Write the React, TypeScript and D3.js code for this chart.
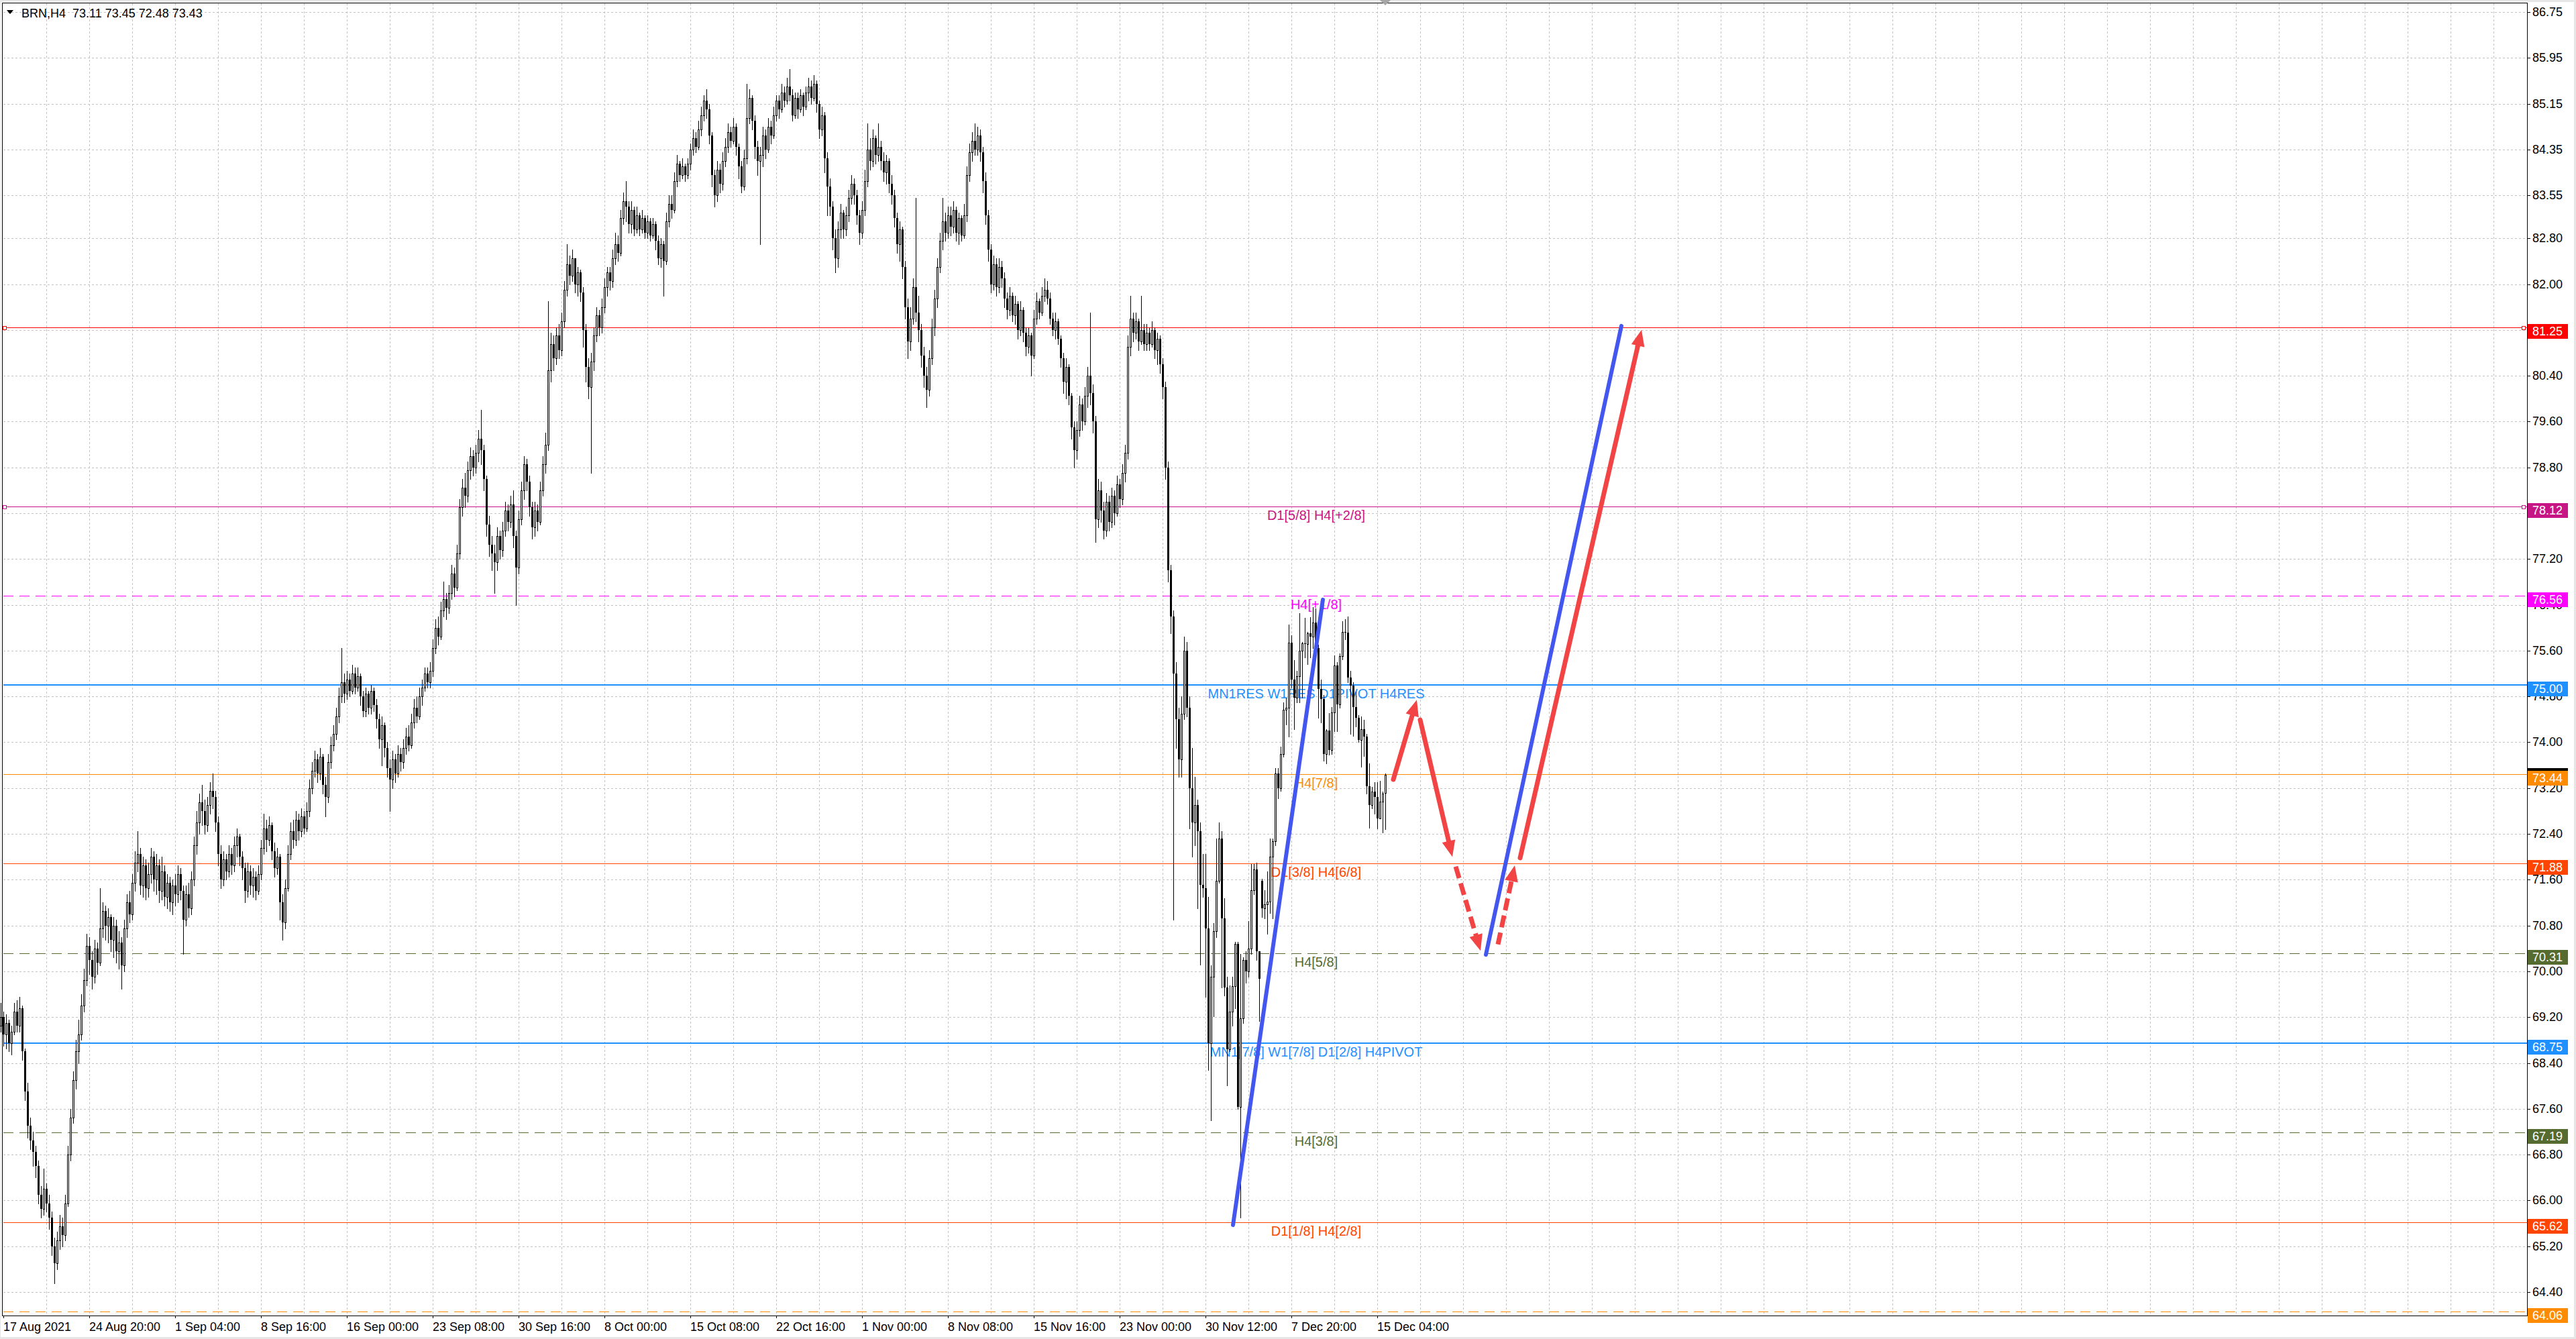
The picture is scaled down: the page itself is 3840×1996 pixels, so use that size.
import React from "react";
import * as d3 from "d3";

// BRN H4 candles, 17 Aug 2021 12:00 .. 15 Dec 2021 20:00 (one value per bar)
const closes = [
  69.2, 68.9, 69.1, 68.75, 68.95, 69.3, 69.05, 69.35, 68.6, 67.9,
  67.3, 67.05, 66.85, 66.6, 66.1, 65.85, 66.2, 65.95, 65.7, 65.2,
  64.9, 65.3, 65.55, 65.4, 65.95, 66.8, 67.45, 68.1, 68.6, 68.9,
  69.4, 69.85, 70.45, 70.2, 69.9, 70.4, 70.15, 70.75, 71.05, 70.8,
  70.95, 70.55, 70.8, 70.35, 70.5, 70.1, 70.75, 71.2, 71.0, 71.55,
  71.9, 72.05, 71.5, 71.85, 71.45, 71.7, 72.0, 71.6, 71.85, 71.4,
  71.75, 71.3, 71.55, 71.2, 71.5, 71.35, 71.7, 71.4, 70.9, 71.35,
  71.1, 71.6, 72.2, 72.6, 72.95, 72.8, 72.55, 72.9, 73.15, 73.05,
  72.6, 72.05, 71.6, 71.95, 71.75, 72.05, 71.85, 72.2, 72.35, 72.0,
  71.8, 71.4, 71.75, 71.5, 71.65, 71.4, 71.7, 72.15, 72.5, 72.3,
  72.55, 72.1, 71.8, 72.0, 71.2, 70.85, 71.45, 72.05, 72.45, 72.3,
  72.65, 72.45, 72.7, 72.5, 72.8, 73.2, 73.5, 73.7, 73.45, 73.75,
  73.25, 73.05, 73.65, 73.95, 74.15, 74.45, 74.8, 75.05, 74.85, 75.1,
  74.9, 75.2, 74.95, 75.15, 74.8, 74.55, 74.85, 74.6, 74.9, 74.65,
  74.4, 74.05, 74.3, 73.9, 73.55, 73.35, 73.7, 73.45, 73.8, 73.65,
  73.9, 74.1, 73.95, 74.35, 74.6, 74.45, 74.8, 74.95, 75.2, 75.05,
  75.25, 75.65, 76.0, 75.85, 76.3, 76.5, 76.35, 76.6, 76.95, 76.7,
  77.3, 78.1, 78.45, 78.3, 78.75, 79.0, 78.8, 79.05, 79.3, 79.1,
  78.6, 77.8, 77.45, 77.3, 77.15, 77.6, 77.35, 77.7, 78.05, 77.85,
  78.15, 77.6, 77.05, 77.9, 78.4, 78.85, 78.55, 78.1, 77.75, 78.05,
  77.85, 78.4, 78.85, 79.2, 80.5, 80.95, 80.7, 81.1, 80.85, 81.35,
  81.9, 82.35, 82.15, 82.45, 82.0, 82.2, 81.85, 81.2, 80.55, 80.2,
  80.65, 81.1, 81.45, 81.25, 81.6, 81.95, 82.2, 82.05, 82.45, 82.7,
  82.55, 83.15, 83.45, 83.35, 83.05, 83.3, 82.95, 83.2, 82.95, 83.15,
  82.9, 83.1, 82.85, 83.05, 82.75, 82.45, 82.7, 82.4, 83.1, 83.4,
  83.3, 83.8, 84.1, 83.9, 84.05, 83.9, 84.1, 84.35, 84.55, 84.4,
  84.7, 84.95, 85.2, 85.05, 84.6, 83.9, 83.55, 84.0, 83.75, 84.15,
  84.4, 84.65, 84.5, 84.75, 84.4, 84.05, 83.7, 84.2, 84.9, 85.25,
  84.85, 84.4, 84.15, 84.25, 84.6, 84.35, 84.75, 84.6, 84.95, 85.2,
  85.05, 85.35, 85.2, 85.45, 85.3, 84.95, 85.25, 85.05, 85.3, 85.1,
  85.35, 85.45, 85.25, 85.5, 85.15, 84.7, 84.95, 84.2, 83.7, 83.35,
  82.8, 82.45, 82.95, 83.25, 82.95, 83.2, 83.5, 83.75, 83.55, 83.2,
  82.9, 83.3, 83.8, 84.35, 84.15, 84.55, 84.25, 84.4, 84.15, 83.95,
  84.15, 83.75, 83.55, 83.15, 82.7, 82.95, 82.3, 81.6, 81.0, 81.4,
  81.95, 81.5, 81.2, 80.75, 80.4, 80.15, 80.7, 81.25, 81.75, 82.3,
  82.75, 83.1, 82.9, 83.2, 83.0, 83.3, 82.9, 83.15, 82.85, 83.2,
  83.9, 84.3, 84.5, 84.35, 84.6, 84.3, 83.8, 83.2, 82.6, 82.0,
  82.35, 81.95, 82.3, 82.1, 81.75, 81.55, 81.8, 81.45, 81.65, 81.2,
  81.55, 81.15, 80.9, 81.1, 80.75, 81.4, 81.7, 81.5, 81.8, 81.9,
  81.75, 81.4, 81.2, 81.35, 81.05, 80.7, 80.3, 80.55, 80.05, 79.5,
  79.1, 79.45, 79.9, 79.6, 80.05, 80.4, 80.1, 79.6, 77.9, 78.4,
  78.05, 77.7, 78.2, 77.85, 78.3, 78.0, 78.5, 78.25, 78.7, 79.05,
  80.9, 81.4, 81.15, 81.35, 81.0, 81.2, 80.95, 81.15, 80.95, 81.2,
  80.85, 81.05, 80.6, 80.2, 78.8, 77.0, 76.2, 75.2, 74.4, 73.7,
  74.5, 75.6, 74.6, 73.2, 72.6, 72.9, 72.45, 71.51, 71.45, 70.75,
  68.75, 69.9, 70.7, 71.58, 72.32, 70.93, 69.72, 68.64, 69.3, 69.74,
  70.48, 67.63, 69.18, 70.2, 70.0, 70.4, 71.42, 71.78, 70.35, 69.87,
  71.1, 71.17, 71.22, 72.0, 72.27, 73.45, 73.2, 73.8, 74.57, 74.6,
  75.74, 75.1, 74.78, 75.15, 75.6, 75.73, 75.71, 75.9, 75.85, 76.09,
  75.64, 74.93, 74.76, 73.8, 74.2, 73.86, 74.52, 75.34, 74.66, 75.5,
  75.93, 75.92, 75.13, 74.99, 74.62, 74.43, 74.04, 74.23, 74.1, 73.23,
  72.9, 73.14, 73.04, 72.67, 72.96, 73.1, 73.43,
];

const highs = [
  69.45, 69.3, 69.25, 69.15, 69.05, 69.45, 69.5, 69.55, 69.4, 68.65,
  68.05, 67.45, 67.2, 66.95, 66.7, 66.25, 66.55, 66.3, 66.1, 65.8,
  65.35, 65.45, 65.75, 65.7, 66.1, 66.95, 67.6, 68.25, 68.8, 69.15,
  69.6, 70.05, 70.65, 70.6, 70.35, 70.55, 70.5, 71.45, 71.2, 71.15,
  71.1, 71.0, 70.95, 70.9, 70.7, 70.6, 70.9, 71.35, 71.4, 71.7,
  72.1, 72.45, 72.15, 72.0, 71.95, 71.9, 72.15, 72.1, 72.05, 71.95,
  72.0, 71.85, 71.7, 71.65, 71.6, 71.7, 71.85, 71.8, 71.5, 71.5,
  71.55, 71.75, 72.35, 72.8, 73.1, 73.25, 73.0, 73.05, 73.3, 73.45,
  73.15, 72.7, 72.2, 72.1, 72.05, 72.2, 72.15, 72.35, 72.5, 72.4,
  72.1, 71.9, 71.9, 71.85, 71.8, 71.75, 71.85, 72.3, 72.75, 72.65,
  72.7, 72.6, 72.25, 72.15, 72.05, 71.35, 71.6, 72.2, 72.6, 72.65,
  72.8, 72.75, 72.85, 72.8, 72.95, 73.35, 73.65, 73.85, 73.8, 73.9,
  73.8, 73.4, 73.8, 74.1, 74.3, 74.6, 74.95, 75.65, 75.2, 75.25,
  75.2, 75.35, 75.3, 75.3, 75.2, 74.9, 74.95, 74.9, 75.0, 74.95,
  74.75, 74.5, 74.45, 74.35, 74.0, 73.7, 73.85, 73.8, 73.95, 73.9,
  74.05, 74.25, 74.3, 74.5, 74.75, 74.8, 74.95, 75.1, 75.3, 75.3,
  75.4, 75.8, 76.15, 76.2, 76.45, 76.8, 76.6, 76.75, 77.1, 77.05,
  77.45, 78.25, 78.6, 78.7, 78.9, 79.15, 79.1, 79.2, 79.45, 79.8,
  79.2, 78.65, 77.95, 77.6, 77.45, 77.75, 77.7, 77.85, 78.2, 78.15,
  78.3, 78.4, 77.7, 78.05, 78.55, 79.0, 78.95, 78.65, 78.2, 78.2,
  78.15, 78.55, 79.0, 79.4, 81.7, 81.15, 81.1, 81.25, 81.3, 81.5,
  82.05, 82.7, 82.5, 82.6, 82.45, 82.3, 82.25, 81.95, 81.3, 80.7,
  80.8, 81.25, 81.6, 81.55, 81.75, 82.1, 82.3, 82.3, 82.6, 82.9,
  82.85, 83.3, 83.6, 83.8, 83.45, 83.45, 83.35, 83.35, 83.25, 83.3,
  83.2, 83.2, 83.15, 83.15, 83.1, 82.85, 82.8, 82.75, 83.25, 83.55,
  83.55, 83.95, 84.25, 84.15, 84.2, 84.1, 84.2, 84.45, 84.7, 84.65,
  84.85, 85.1, 85.3, 85.4, 85.15, 84.65, 84.0, 84.15, 84.1, 84.3,
  84.55, 84.8, 84.75, 84.9, 84.8, 84.45, 84.15, 84.35, 85.5, 85.4,
  85.3, 84.95, 84.5, 84.4, 84.75, 84.7, 84.9, 84.85, 85.1, 85.3,
  85.3, 85.5, 85.45, 85.6, 85.75, 85.4, 85.35, 85.35, 85.4, 85.35,
  85.45, 85.6, 85.55, 85.65, 85.55, 85.2, 85.1, 85.0, 84.3, 83.85,
  83.45, 82.95, 83.1, 83.4, 83.3, 83.35, 83.65, 83.9, 83.85, 83.65,
  83.3, 83.45, 84.0, 84.8, 84.55, 84.7, 84.6, 84.8, 84.5, 84.3,
  84.25, 84.2, 83.9, 83.65, 83.25, 83.1, 83.0, 82.4, 81.75, 81.6,
  82.1, 83.5, 81.8, 81.3, 80.9, 80.55, 80.85, 81.4, 81.9, 82.45,
  82.9, 83.5, 83.25, 83.35, 83.35, 83.45, 83.35, 83.25, 83.2, 83.4,
  84.05, 84.45, 84.65, 84.8, 84.75, 84.7, 84.4, 83.95, 83.3, 82.7,
  82.5, 82.45, 82.45, 82.4, 82.2, 81.85, 81.95, 81.85, 81.8, 81.7,
  81.7, 81.6, 81.25, 81.25, 81.15, 81.55, 81.85, 81.75, 81.95, 82.1,
  82.05, 81.85, 81.5, 81.5, 81.4, 81.1, 80.8, 80.7, 80.6, 80.1,
  79.6, 79.6, 80.05, 80.0, 80.2, 80.55, 81.5, 80.25, 79.7, 78.6,
  78.55, 78.2, 78.35, 78.3, 78.45, 78.4, 78.65, 78.6, 78.85, 79.2,
  81.1, 81.8, 81.5, 81.5, 81.4, 81.8, 81.3, 81.3, 81.25, 81.35,
  81.25, 81.15, 81.1, 80.7, 80.3, 78.9, 77.1, 76.3, 75.4, 74.6,
  74.8, 75.85, 75.75, 74.8, 73.9, 73.4, 73.0, 72.6, 72.05, 72.05,
  71.3, 70.1, 70.84, 72.32, 72.6, 72.45, 71.28, 69.9, 69.75, 69.9,
  70.52, 70.52, 70.3, 70.25, 70.35, 70.88, 71.87, 71.87, 71.9, 70.35,
  71.62, 71.42, 71.74, 72.32, 72.32, 73.55, 73.55, 73.92, 74.7, 74.78,
  76.05, 75.87, 75.44, 75.25, 76.26, 75.75, 76.17, 75.93, 76.18, 76.36,
  76.34, 75.7, 75.1, 74.82, 74.23, 74.51, 74.62, 75.52, 75.4, 75.55,
  76.11, 76.15, 76.2, 75.25, 75.05, 74.88, 74.47, 74.45, 74.39, 74.15,
  73.63, 73.22, 73.3, 73.3, 73.33, 73.14, 73.45,
];

const lows = [
  68.95, 68.7, 68.65, 68.6, 68.55, 68.9, 68.95, 68.95, 68.45, 67.75,
  67.1, 66.9, 66.6, 66.4, 65.95, 65.7, 65.75, 65.8, 65.5, 65.05,
  64.55, 64.8, 65.15, 65.2, 65.3, 65.9, 66.7, 67.35, 67.95, 68.4,
  68.8, 69.3, 69.75, 69.95, 69.7, 69.8, 69.95, 70.1, 70.6, 70.55,
  70.5, 70.35, 70.25, 70.15, 70.05, 69.7, 70.0, 70.6, 70.85, 70.9,
  71.4, 71.75, 71.35, 71.3, 71.25, 71.3, 71.55, 71.4, 71.35, 71.2,
  71.25, 71.15, 71.1, 71.05, 71.0, 71.15, 71.2, 71.25, 70.3, 70.8,
  70.95, 71.0, 71.5, 72.05, 72.4, 72.55, 72.4, 72.45, 72.75, 72.85,
  72.45, 71.85, 71.45, 71.5, 71.6, 71.65, 71.7, 71.75, 72.0, 71.85,
  71.6, 71.2, 71.3, 71.35, 71.3, 71.25, 71.35, 71.6, 72.05, 72.1,
  72.2, 71.95, 71.65, 71.7, 70.9, 70.55, 70.75, 71.4, 71.95, 72.15,
  72.2, 72.3, 72.35, 72.4, 72.45, 72.7, 73.1, 73.4, 73.3, 73.35,
  73.1, 72.7, 72.95, 73.55, 73.85, 74.05, 74.35, 74.7, 74.7, 74.75,
  74.8, 74.85, 74.85, 74.9, 74.65, 74.45, 74.45, 74.5, 74.5, 74.55,
  74.25, 73.9, 73.6, 73.75, 73.4, 72.8, 73.2, 73.3, 73.4, 73.5,
  73.55, 73.8, 73.85, 73.9, 74.25, 74.35, 74.4, 74.65, 74.9, 74.95,
  74.95, 75.15, 75.55, 75.7, 75.8, 76.2, 76.15, 76.25, 76.5, 76.55,
  76.65, 77.2, 77.95, 78.1, 78.2, 78.6, 78.65, 78.7, 78.9, 78.85,
  78.4, 77.6, 77.25, 77.0, 76.6, 77.0, 77.2, 77.25, 77.6, 77.7,
  77.75, 77.4, 76.4, 76.95, 77.8, 78.25, 78.4, 77.95, 77.55, 77.6,
  77.7, 77.8, 78.3, 78.7, 79.1, 80.3, 80.5, 80.6, 80.7, 80.75,
  81.25, 81.8, 82.0, 82.05, 81.85, 81.8, 81.7, 80.9, 80.3, 80.0,
  78.7, 80.5, 81.0, 81.1, 81.15, 81.5, 81.8, 81.9, 81.95, 82.35,
  82.4, 82.5, 83.05, 83.1, 82.9, 82.9, 82.85, 82.9, 82.85, 82.9,
  82.8, 82.8, 82.75, 82.8, 82.6, 82.35, 82.3, 81.8, 82.35, 83.0,
  83.15, 83.25, 83.7, 83.8, 83.85, 83.8, 83.85, 84.0, 84.25, 84.3,
  84.35, 84.6, 84.85, 84.9, 84.45, 83.7, 83.35, 83.45, 83.6, 83.65,
  84.05, 84.3, 84.4, 84.45, 84.25, 83.85, 83.6, 83.65, 84.1, 84.8,
  84.7, 84.2, 83.9, 82.7, 84.05, 84.2, 84.3, 84.45, 84.55, 84.85,
  84.9, 85.0, 85.1, 85.15, 85.2, 84.85, 84.9, 84.9, 85.0, 84.95,
  85.05, 85.2, 85.15, 85.2, 85.0, 84.55, 84.6, 83.95, 83.2, 83.2,
  82.6, 82.2, 82.3, 82.8, 82.8, 82.85, 83.1, 83.4, 83.4, 83.05,
  82.7, 82.8, 83.2, 83.7, 84.0, 84.05, 84.1, 84.15, 84.0, 83.8,
  83.75, 83.6, 83.4, 83.0, 82.55, 82.4, 82.1, 81.4, 80.7, 80.85,
  81.3, 81.35, 81.0, 80.55, 80.2, 79.85, 80.05, 80.6, 81.1, 81.6,
  82.2, 82.6, 82.75, 82.8, 82.85, 82.9, 82.75, 82.7, 82.75, 82.8,
  83.1, 83.8, 84.15, 84.25, 84.25, 84.15, 83.6, 83.05, 82.4, 81.85,
  81.9, 81.8, 81.85, 81.95, 81.6, 81.4, 81.45, 81.35, 81.3, 81.05,
  81.1, 81.0, 80.75, 80.8, 80.4, 80.7, 81.3, 81.4, 81.45, 81.7,
  81.65, 81.3, 81.1, 81.05, 80.95, 80.55, 80.1, 80.0, 79.9, 79.3,
  78.8, 78.95, 79.35, 79.45, 79.55, 79.85, 79.9, 79.4, 77.5, 77.75,
  77.85, 77.55, 77.6, 77.7, 77.75, 77.8, 77.95, 78.1, 78.15, 78.55,
  78.95, 80.75, 81.0, 81.05, 80.85, 80.95, 80.85, 80.85, 80.85, 80.9,
  80.7, 80.6, 80.45, 80.0, 78.6, 76.8, 75.9, 70.9, 73.9, 73.4,
  73.4, 74.4, 74.45, 72.5, 72.0, 72.2, 71.1, 70.12, 71.3, 69.55,
  68.28, 67.4, 69.22, 70.6, 71.55, 69.72, 69.58, 68.01, 68.6, 69.05,
  69.35, 67.6, 65.7, 69.1, 69.8, 69.9, 70.3, 71.35, 70.2, 69.13,
  70.95, 70.93, 70.66, 71.02, 70.93, 72.2, 73.02, 73.15, 73.75, 74.31,
  74.1, 74.95, 74.23, 74.7, 74.7, 74.78, 75.48, 75.36, 75.48, 75.64,
  75.55, 74.43, 74.35, 73.68, 73.63, 73.78, 73.8, 74.19, 74.19, 74.6,
  75.45, 75.8, 75.05, 74.15, 74.11, 74.28, 74.0, 73.57, 73.76, 73.1,
  72.51, 72.85, 72.75, 72.49, 72.67, 72.42, 72.48,
];

// opens follow the previous close, except where a session opened with a gap
const firstOpen = 69.05;
const gapOpens: [number, number][] = [
  [470, 71.58],
  [516, 73.11],
];

const lastOhlc = [73.11, 73.45, 72.48, 73.43];

// time axis labels, one every 32 bars starting at bar 1
const timeLabels = [
  "17 Aug 2021", "24 Aug 20:00", "1 Sep 04:00", "8 Sep 16:00", "16 Sep 00:00",
  "23 Sep 08:00", "30 Sep 16:00", "8 Oct 00:00", "15 Oct 08:00", "22 Oct 16:00",
  "1 Nov 00:00", "8 Nov 08:00", "15 Nov 16:00", "23 Nov 00:00", "30 Nov 12:00",
  "7 Dec 20:00", "15 Dec 04:00",
];

const priceTicks = [
  86.75, 85.95, 85.15, 84.35, 83.55, 82.8, 82.0, 81.2, 80.4, 79.6, 78.8, 78.0,
  77.2, 76.4, 75.6, 74.8, 74.0, 73.2, 72.4, 71.6, 70.8, 70.0, 69.2, 68.4, 67.6,
  66.8, 66.0, 65.2, 64.4,
];

// Murrey / pivot levels
const levelPrices = [81.25, 78.12, 76.56, 75.0, 73.44, 71.88, 70.31, 68.75, 67.19, 65.62, 64.06];
const levelLabels = [
  "",
  "D1[5/8] H4[+2/8]",
  "H4[+1/8]",
  "MN1RES W1RES D1PIVOT H4RES",
  "H4[7/8]",
  "D1[3/8] H4[6/8]",
  "H4[5/8]",
  "MN1[7/8] W1[7/8] D1[2/8] H4PIVOT",
  "H4[3/8]",
  "D1[1/8] H4[2/8]",
  "",
];

// hand-drawn forecast: [bar, price] pairs
const trendFrom: [number, number][] = [[459.25, 65.57], [553.5, 70.29]];
const trendTo: [number, number][] = [[492.75, 76.49], [604, 81.27]];
const arrowFrom: [number, number][] = [[519, 73.35], [529, 74.39], [542.25, 71.83], [558, 70.47], [566.25, 71.98]];
const arrowTo: [number, number][] = [[527.75, 74.74], [541, 72.0], [551.5, 70.36], [564.25, 71.85], [611.5, 81.2]];

// ---- styles ----
const FONT = "'Liberation Sans', Arial, sans-serif";
const levelStyle = [
  { color: "#ff0000", dash: "", width: 1, anchor: true },
  { color: "#c71585", dash: "", width: 1, anchor: true },
  { color: "#ff00ff", dash: "15,9", width: 1, anchor: false },
  { color: "#1e90ff", dash: "", width: 2, anchor: false },
  { color: "#ff8c00", dash: "", width: 1, anchor: false },
  { color: "#ff4500", dash: "", width: 1, anchor: false },
  { color: "#556b2f", dash: "15,9", width: 1, anchor: false },
  { color: "#1e90ff", dash: "", width: 2, anchor: false },
  { color: "#556b2f", dash: "15,9", width: 1, anchor: false },
  { color: "#ff4500", dash: "", width: 1, anchor: false },
  { color: "#ff8c00", dash: "15,9", width: 1, anchor: false },
];
const arrowDashed = [false, false, true, true, false];
const RED = "#f24444";
const BLUE = "#4356ef";

const W = 3840;
const H = 1996;
const PL = 4;
const PT = 4;
const PR = 3767;
const PB = 1961;
const LABEL_BAR = 490.25;

export default function App() {
  const x = d3.scaleLinear().domain([0, 516]).range([1, 2065]);
  const y = d3.scaleLinear().domain([63.99, 86.914]).range([PB, PT]);

  const gapMap = new Map(gapOpens);
  const bars = closes.map((c, i) => {
    const o = gapMap.has(i) ? (gapMap.get(i) as number) : i === 0 ? firstOpen : closes[i - 1];
    return { i, o, h: highs[i], l: lows[i], c };
  });

  const gridBars = d3.range(17, 930, 16);
  const labelBars = timeLabels.map((_, k) => 1 + 32 * k);

  const arrow = (k: number) => {
    const x1 = x(arrowFrom[k][0]);
    const y1 = y(arrowFrom[k][1]);
    const x2 = x(arrowTo[k][0]);
    const y2 = y(arrowTo[k][1]);
    const len = Math.hypot(x2 - x1, y2 - y1);
    const ux = (x2 - x1) / len;
    const uy = (y2 - y1) / len;
    const headLen = 24;
    const half = 10;
    const bx = x2 - ux * headLen;
    const by = y2 - uy * headLen;
    const head = `M${x2},${y2}L${bx - uy * half},${by + ux * half}L${bx + uy * half},${by - ux * half}Z`;
    return (
      <g key={k}>
        <line
          x1={x1}
          y1={y1}
          x2={bx + ux * 3}
          y2={by + uy * 3}
          stroke={RED}
          strokeWidth={7}
          strokeLinecap={arrowDashed[k] ? "butt" : "round"}
          strokeDasharray={arrowDashed[k] ? "18,8" : undefined}
        />
        <path d={head} fill={RED} />
      </g>
    );
  };

  return (
    <svg
      width={W}
      height={H}
      viewBox={`0 0 ${W} ${H}`}
      style={{ position: "absolute", left: 0, top: 0, display: "block" }}
      fontFamily={FONT}
    >
      <rect width={W} height={H} fill="#e6e6e6" />
      <rect x={1} y={3} width={3836} height={1990} fill="#ffffff" />

      {/* grid */}
      <g stroke="#c3c3c3" strokeWidth={1} strokeDasharray="3,3" shapeRendering="crispEdges">
        {gridBars.map((b) => (
          <line key={b} x1={Math.round(x(b)) + 0.5} x2={Math.round(x(b)) + 0.5} y1={PT + 1} y2={PB} />
        ))}
        {priceTicks.map((p) => (
          <line key={p} x1={PL + 1} x2={PR} y1={Math.round(y(p)) + 0.5} y2={Math.round(y(p)) + 0.5} />
        ))}
      </g>

      {/* level lines */}
      <g shapeRendering="crispEdges">
        {levelPrices.map((p, k) => {
          const st = levelStyle[k];
          const yy = Math.round(y(p)) + (st.width === 1 ? 0.5 : 0);
          return (
            <g key={p}>
              <line
                x1={PL + 1}
                x2={PR}
                y1={yy}
                y2={yy}
                stroke={st.color}
                strokeWidth={st.width}
                strokeDasharray={st.dash || undefined}
              />
              {st.anchor && (
                <>
                  <rect x={4.5} y={yy - 2.5} width={5} height={5} fill="#fff" stroke={st.color} />
                  <rect x={3759.5} y={yy - 2.5} width={5} height={5} fill="#fff" stroke={st.color} />
                </>
              )}
            </g>
          );
        })}
      </g>

      {/* level labels */}
      <g fontSize={20} textAnchor="middle">
        {levelPrices.map((p, k) =>
          levelLabels[k] ? (
            <text key={p} x={x(LABEL_BAR)} y={Math.round(y(p)) + 20} fill={levelStyle[k].color}>
              {levelLabels[k]}
            </text>
          ) : null
        )}
      </g>

      {/* candles */}
      <g shapeRendering="crispEdges">
        {bars.map((d) => {
          const cx = Math.round(x(d.i));
          const top = Math.round(y(Math.max(d.o, d.c)));
          const bot = Math.round(y(Math.min(d.o, d.c)));
          const hi = Math.round(y(Math.max(d.h, d.o, d.c)));
          const lo = Math.round(y(Math.min(d.l, d.o, d.c)));
          const bull = d.c >= d.o;
          return (
            <g key={d.i}>
              <line x1={cx + 0.5} x2={cx + 0.5} y1={hi} y2={lo + 1} stroke="#000" strokeWidth={1} />
              {bull ? (
                <rect
                  x={cx - 0.5}
                  y={top + 0.5}
                  width={2}
                  height={Math.max(bot - top, 0)}
                  fill="#fff"
                  stroke="#000"
                  strokeWidth={1}
                />
              ) : (
                <rect x={cx - 1} y={top} width={3} height={Math.max(bot - top, 1)} fill="#000" />
              )}
            </g>
          );
        })}
      </g>

      {/* forecast drawings */}
      <g>
        {trendFrom.map((f, k) => (
          <line
            key={k}
            x1={x(f[0])}
            y1={y(f[1])}
            x2={x(trendTo[k][0])}
            y2={y(trendTo[k][1])}
            stroke={BLUE}
            strokeWidth={6}
            strokeLinecap="round"
          />
        ))}
        {arrowFrom.map((_, k) => arrow(k))}
      </g>

      {/* frame */}
      <rect
        x={PL - 0.5}
        y={PT + 0.5}
        width={PR - PL + 1}
        height={PB - PT}
        fill="none"
        stroke="#000"
        strokeWidth={1}
        shapeRendering="crispEdges"
      />
      <path d={`M${x(516) - 8},0L${x(516) + 8},0L${x(516)},8Z`} fill="#a6a6a6" />

      {/* title */}
      <path d="M10,15L20,15L15,21Z" fill="#000" />
      <text x={32} y={26} fontSize={18} fill="#000" style={{ whiteSpace: "pre" }}>
        {`BRN,H4  ${lastOhlc.map((v) => v.toFixed(2)).join(" ")}`}
      </text>

      {/* price axis */}
      <g fontSize={18} fill="#000">
        {priceTicks.map((p) => {
          const yy = Math.round(y(p));
          return (
            <g key={p}>
              <line x1={PR} x2={PR + 5} y1={yy + 0.5} y2={yy + 0.5} stroke="#000" shapeRendering="crispEdges" />
              <text x={3775} y={yy} dominantBaseline="central">
                {p.toFixed(2)}
              </text>
            </g>
          );
        })}
      </g>
      <rect x={3768} y={Math.round(y(lastOhlc[3])) - 10} width={60} height={22} fill="#000" />
      <g fontSize={18}>
        {levelPrices.map((p, k) => {
          const yy = Math.round(y(p));
          return (
            <g key={p}>
              <rect x={3768} y={yy - 5} width={60} height={22} fill={levelStyle[k].color} />
              <text x={3775} y={yy + 6} dominantBaseline="central" fill="#fff">
                {p.toFixed(2)}
              </text>
            </g>
          );
        })}
      </g>

      {/* time axis */}
      <g fontSize={18} fill="#000">
        {labelBars.map((b, k) => {
          const xx = Math.round(x(b));
          return (
            <g key={b}>
              <line x1={xx + 0.5} x2={xx + 0.5} y1={PB} y2={PB + 4} stroke="#000" shapeRendering="crispEdges" />
              <text x={xx} y={1984}>
                {timeLabels[k]}
              </text>
            </g>
          );
        })}
      </g>
    </svg>
  );
}
